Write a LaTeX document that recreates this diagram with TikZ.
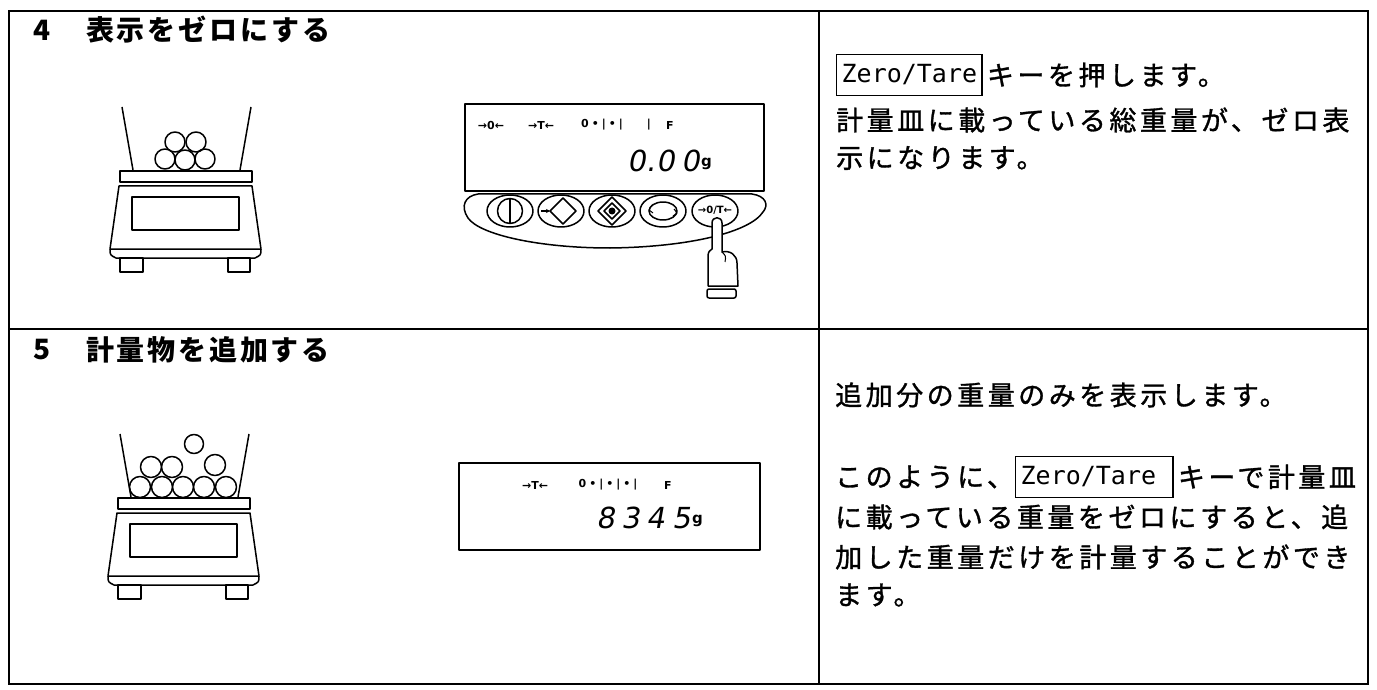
\documentclass[tikz,border=0pt]{standalone}
\usepackage{fontspec}
\usetikzlibrary{arrows.meta}
\newfontfamily\cjk{Noto Sans CJK JP}[LetterSpace=13, FakeBold=1.2]
\newfontfamily\cjkt{Noto Sans CJK JP}[LetterSpace=10]
\newfontfamily\ztf{DejaVu Sans Mono}
\newfontfamily\indf{DejaVu Sans}
\newfontfamily\segf{DejaVu Sans}[FakeSlant=0.18]
\newcommand\bodyfont{\cjk\fontsize{27}{32}\selectfont}
\newcommand\titlefont{\cjkt\bfseries\fontsize{28}{32}\selectfont}
\newcommand\ztfont{\ztf\fontsize{25}{30}\selectfont}
\newcommand\indfont{\indf\bfseries\fontsize{11}{13}\selectfont}
\newcommand\segfont{\segf\fontsize{29}{32}\selectfont}
\newcommand\smallg{\indf\bfseries\fontsize{15}{17}\selectfont}
\tikzset{
  frame/.style={line width=2.4pt},
  ln/.style={line width=1.5pt, line join=round},
  body/.style={inner sep=0pt, anchor=west, font=\bodyfont},
  ttl/.style={inner sep=0pt, anchor=west, font=\titlefont},
  ztbox/.style={draw, line width=1.3pt, inner xsep=5pt, inner ysep=0pt, minimum height=41pt, anchor=west, font=\ztfont},
  ind/.style={inner sep=0pt, font=\indfont},
  seg/.style={inner sep=0pt, font=\segfont},
}
\newcommand\drawbalance{%
  \draw[ln] (122,107) -- (133,170);
  \draw[ln] (251,107) -- (240,170);
  \draw[ln] (120,171) rectangle (252,182);
  \draw[ln] (119,186) -- (252,186) -- (261,249) -- (110,249) -- cycle;
  \draw[ln] (110,249) .. controls (110,255) .. (116,258) -- (255,258) .. controls (261,255) .. (261,249);
  \draw[ln] (120,258) rectangle (143,272);
  \draw[ln] (228,258) rectangle (250,272);
  \draw[ln] (132,197) rectangle (239,230);
}
\begin{document}
\begin{tikzpicture}[x=1pt,y=-1pt]
\path[fill=white] (0,0) rectangle (1377,690);
\useasboundingbox (0,0) rectangle (1377,690);
% table
\draw[frame] (9,11) rectangle (1368,684);
\draw[frame] (9,329) -- (1368,329);
\draw[frame] (819,11) -- (819,684);
% titles
\node[ttl] (num4) at (33,30) {4};
\node[ttl] (tit4) at (86,30) {表示をゼロにする};
\node[ttl] (num5) at (33,350) {5};
\node[ttl] (tit5) at (86,350) {計量物を追加する};
% balance 1
\drawbalance
\foreach \p in {(175,142),(196,142),(165,159),(185,160),(205,159)}
  \draw[ln] \p circle [radius=10];
% balance 2
\begin{scope}[shift={(-2,327)}]
\drawbalance
\end{scope}
\draw[ln] (194,444) circle [radius=9.5];
\foreach \p in {(151,467),(172,467),(215,465),(140,487),(162,487),(183,487),(204,487),(226,487)}
  \draw[ln] \p circle [radius=10.5];
% display 4
\draw[ln] (465,104) rectangle (764,191);
\node[ind] (i41) at (491,125) {→0←};
\node[ind] (i42) at (541,125) {→T←};
\node[ind] (i43) at (602,125) {0\hspace{3pt}•\hspace{3pt}|\hspace{3pt}•\hspace{3pt}|};
\node[ind] (i44) at (649,125) {|};
\node[ind] (i45) at (670,125) {F};
\node[seg, anchor=east] (d4) at (700,161) {0\kern1pt.\kern1pt0\kern6pt0};
\node[inner sep=0pt, font=\smallg, anchor=west] (g4) at (701,164) {g};
% key panel
\draw[ln] (478,194) -- (752,194) .. controls (766,196) and (769,205) .. (763,212)
  .. controls (750,232) and (690,247) .. (610,248)
  .. controls (540,248) and (480,235) .. (468,218)
  .. controls (460,206) and (465,196) .. (478,194);
\draw[ln] (510,211) ellipse [x radius=23, y radius=16];
\draw[ln] (510,211) circle [radius=12.5];
\draw[ln] (510,198) -- (510,224);
\draw[ln] (561,211) ellipse [x radius=23, y radius=16];
\draw[ln] (550,211) -- (563,198) -- (576,211) -- (563,224) -- cycle;
\draw[line width=1.1pt, -{Stealth[length=4pt,width=4pt]}] (541,211) -- (550,211);
\draw[ln] (612,211) ellipse [x radius=23, y radius=16];
\draw[ln] (598,211) -- (612,197) -- (626,211) -- (612,225) -- cycle;
\draw[ln] (604,211) -- (612,203) -- (620,211) -- (612,219) -- cycle;
\fill (612,211) circle [radius=3.5];
\draw[ln] (663,211) ellipse [x radius=23, y radius=16];
\draw[ln] (663,211) ellipse [x radius=14, y radius=9];
\draw[line width=1pt] (652,205) -- (649,210) -- (653,213);
\draw[line width=1pt] (674,209) -- (677,213) -- (673,216);
\draw[ln] (715,211) ellipse [x radius=23, y radius=16];
\node[inner sep=0pt, font=\indf\bfseries\fontsize{10}{12}\selectfont] (k5) at (715,210) {→0/T←};
% hand
\draw[ln, fill=white] (708,286) -- (708,256) .. controls (708,252) and (710,250) .. (712,249)
  -- (712,223) .. controls (712,216) and (722,216) .. (722,223) -- (722,252)
  .. controls (730,250) and (737,255) .. (737,263) -- (738,286) -- cycle;
\draw[line width=1pt] (722,252) .. controls (726,256) .. (725,262);
\draw[ln, rounded corners=2pt] (707,289) rectangle (736,298);
% display 5
\draw[ln] (459,463) rectangle (760,550);
\node[ind] (i51) at (535,485) {→T←};
\node[ind] (i52) at (608,485) {0\hspace{3pt}•\hspace{3pt}|\hspace{3pt}•\hspace{3pt}|\hspace{3pt}•\hspace{3pt}|};
\node[ind] (i53) at (668,485) {F};
\node[seg, anchor=east] (d5) at (691,518) {8\kern7pt3\kern7pt4\kern7pt5};
\node[inner sep=0pt, font=\smallg, anchor=west] (g5) at (692,521) {g};
% right text, step 4
\node[ztbox] (zt4) at (836,75) {Zero/Tare};
\node[body] (l41) at ([xshift=4pt]zt4.east) {キーを押します。};
\node[body] (l42) at (836,120) {計量皿に載っている総重量が、ゼロ表};
\node[body] (l43) at (836,158) {示になります。};
% right text, step 5
\node[body] (l51) at (835,395) {追加分の重量のみを表示します。};
\node[body] (l52a) at (835,477) {このように、};
\node[ztbox] (zt5) at (1015,477) {Zero/Tare\kern12pt};
\node[body] (l52b) at ([xshift=4pt]zt5.east) {キーで計量皿};
\node[body] (l53) at (835,517) {に載っている重量をゼロにすると、追};
\node[body] (l54) at (835,557) {加した重量だけを計量することができ};
\node[body] (l55) at (835,595) {ます。};
\end{tikzpicture}
\end{document}
